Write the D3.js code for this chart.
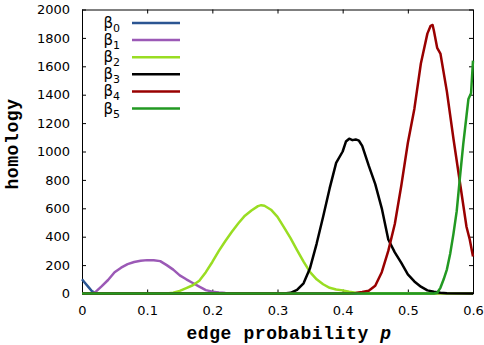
<!DOCTYPE html>
<html lang="en">
<head>
  <meta charset="UTF-8">
  <title>homology vs edge probability</title>
  <script src="https://d3js.org/d3.v7.min.js"></script>
  <style>
    html, body { margin: 0; padding: 0; background: #fff; }
    svg { display: block; }
    .tick text { font-family: "DejaVu Sans", sans-serif; font-size: 13px; fill: #000; }
    .axlabel { font-family: "Liberation Mono", monospace; font-weight: bold; font-size: 18px; letter-spacing: 0.6px; }
    .leg { font-family: "DejaVu Sans", sans-serif; font-size: 15px; }
  </style>
</head>
<body>
<svg id="canvas" width="484" height="345"></svg>
<script>
  // tick labels
  let xTicks = [0, 0.1, 0.2, 0.3, 0.4, 0.5, 0.6]
  let yTicks = [0, 200, 400, 600, 800, 1000, 1200, 1400, 1600, 1800, 2000]

  let names = ['0', '1', '2', '3', '4', '5']
  let colors = ['#2b5592', '#9b59b6', '#99dd22', '#000000', '#990000', '#229922']

  // each series: p values and homology values
  let p0 = [0, 0.005, 0.01, 0.015, 0.02, 0.025, 0.6]
  let v0 = [100, 72, 45, 18, 4, 0, 0]

  let p1 = [0, 0.015, 0.02, 0.03, 0.04, 0.05, 0.06, 0.07, 0.08, 0.09, 0.1, 0.11, 0.12, 0.13, 0.14, 0.15, 0.16, 0.17, 0.18, 0.19, 0.2, 0.21, 0.22, 0.24, 0.26, 0.6]
  let v1 = [0, 0, 8, 50, 95, 150, 182, 207, 222, 230, 235, 234, 228, 200, 168, 128, 100, 74, 48, 24, 13, 7, 4, 1, 0, 0]

  let p2 = [0, 0.13, 0.14, 0.15, 0.16, 0.17, 0.18, 0.19, 0.2, 0.21, 0.22, 0.23, 0.24, 0.25, 0.26, 0.27, 0.275, 0.28, 0.29, 0.3, 0.31, 0.32, 0.33, 0.34, 0.35, 0.36, 0.37, 0.38, 0.39, 0.4, 0.41, 0.42, 0.44, 0.6]
  let v2 = [0, 0, 5, 18, 38, 58, 90, 150, 222, 300, 370, 435, 495, 548, 585, 615, 622, 618, 590, 540, 465, 390, 306, 225, 150, 100, 65, 40, 28, 22, 12, 5, 0, 0]

  let p3 = [0, 0.31, 0.32, 0.33, 0.34, 0.35, 0.36, 0.37, 0.38, 0.39, 0.4, 0.405, 0.41, 0.415, 0.42, 0.425, 0.43, 0.44, 0.45, 0.46, 0.47, 0.48, 0.49, 0.5, 0.51, 0.52, 0.53, 0.54, 0.55, 0.56, 0.6]
  let v3 = [0, 0, 5, 25, 72, 180, 350, 540, 740, 920, 1000, 1070, 1090, 1080, 1085, 1076, 1040, 900, 770, 600, 380, 290, 215, 135, 85, 48, 22, 12, 5, 2, 0]

  let p4 = [0, 0.41, 0.42, 0.43, 0.44, 0.45, 0.46, 0.47, 0.48, 0.49, 0.5, 0.51, 0.52, 0.53, 0.535, 0.538, 0.54, 0.545, 0.55, 0.56, 0.57, 0.58, 0.59, 0.595, 0.6]
  let v4 = [0, 0, 3, 10, 20, 55, 150, 300, 490, 760, 1060, 1300, 1620, 1830, 1885, 1891, 1850, 1730, 1690, 1420, 1090, 780, 470, 380, 260]

  let p5 = [0, 0.54, 0.545, 0.55, 0.555, 0.56, 0.565, 0.57, 0.575, 0.58, 0.585, 0.59, 0.593, 0.597, 0.6]
  let v5 = [0, 0, 5, 40, 100, 170, 280, 420, 580, 820, 1050, 1250, 1370, 1410, 1640]

  let seriesP = [p0, p1, p2, p3, p4, p5]
  let seriesV = [v0, v1, v2, v3, v4, v5]

  let margin = {left: 82, right: 11, top: 9.5, bottom: 51.5}
  let width = 484, height = 345

  let svg = d3.select('#canvas')

  let x = d3.scaleLinear().domain([0, 0.6]).range([margin.left, width - margin.right])
  let y = d3.scaleLinear().domain([0, 2000]).range([height - margin.bottom, margin.top])

  let fmtX = d => d === 0 ? '0' : d3.format('.1f')(d)

  // axes with inward ticks, mirrored on top and right
  svg.append('g')
    .attr('transform', `translate(0,${y(0)})`)
    .call(d3.axisBottom(x).tickValues(xTicks).tickFormat(fmtX).tickSizeInner(-4).tickSizeOuter(0).tickPadding(12))
  svg.append('g')
    .attr('transform', `translate(0,${y(2000)})`)
    .call(d3.axisTop(x).tickValues(xTicks).tickFormat('').tickSizeInner(-4).tickSizeOuter(0))
  svg.append('g')
    .attr('transform', `translate(${x(0)},0)`)
    .call(d3.axisLeft(y).tickValues(yTicks).tickFormat(d3.format('d')).tickSizeInner(-4).tickSizeOuter(0).tickPadding(12))
  svg.append('g')
    .attr('transform', `translate(${x(0.6)},0)`)
    .call(d3.axisRight(y).tickValues(yTicks).tickFormat('').tickSizeInner(-4).tickSizeOuter(0))

  svg.selectAll('.domain').attr('stroke', '#000')

  let line = d3.line().x(d => x(d[0])).y(d => y(d[1]))

  // curves, drawn in order so beta_5 ends up on top of the baseline
  seriesP.forEach((ps, i) => {
    let pts = ps.map((p, j) => [p, seriesV[i][j]])
    svg.append('path')
      .datum(pts)
      .attr('d', line)
      .attr('fill', 'none')
      .attr('stroke', colors[i])
      .attr('stroke-width', 2.5)
      .attr('stroke-linejoin', 'round')
  })

  // legend
  let leg = svg.append('g')
  names.forEach((n, i) => {
    let ly = 23 + i * 17.1
    let t = leg.append('text').attr('class', 'leg')
      .attr('x', 120).attr('y', ly + 5).attr('text-anchor', 'end')
    t.append('tspan').text('\u03b2')
    t.append('tspan').attr('dy', 4).attr('font-size', 11).text(n)
    leg.append('line')
      .attr('x1', 132).attr('x2', 180)
      .attr('y1', ly).attr('y2', ly)
      .attr('stroke', colors[i]).attr('stroke-width', 2.5)
  })

  // axis labels
  let xl = svg.append('text').attr('class', 'axlabel')
    .attr('x', 289).attr('y', 339).attr('text-anchor', 'middle')
  xl.append('tspan').text('edge probability ')
  xl.append('tspan').attr('font-style', 'italic').text('p')

  svg.append('text').attr('class', 'axlabel')
    .attr('transform', 'translate(18,144) rotate(-90)')
    .attr('text-anchor', 'middle')
    .text('homology')
</script>
</body>
</html>
